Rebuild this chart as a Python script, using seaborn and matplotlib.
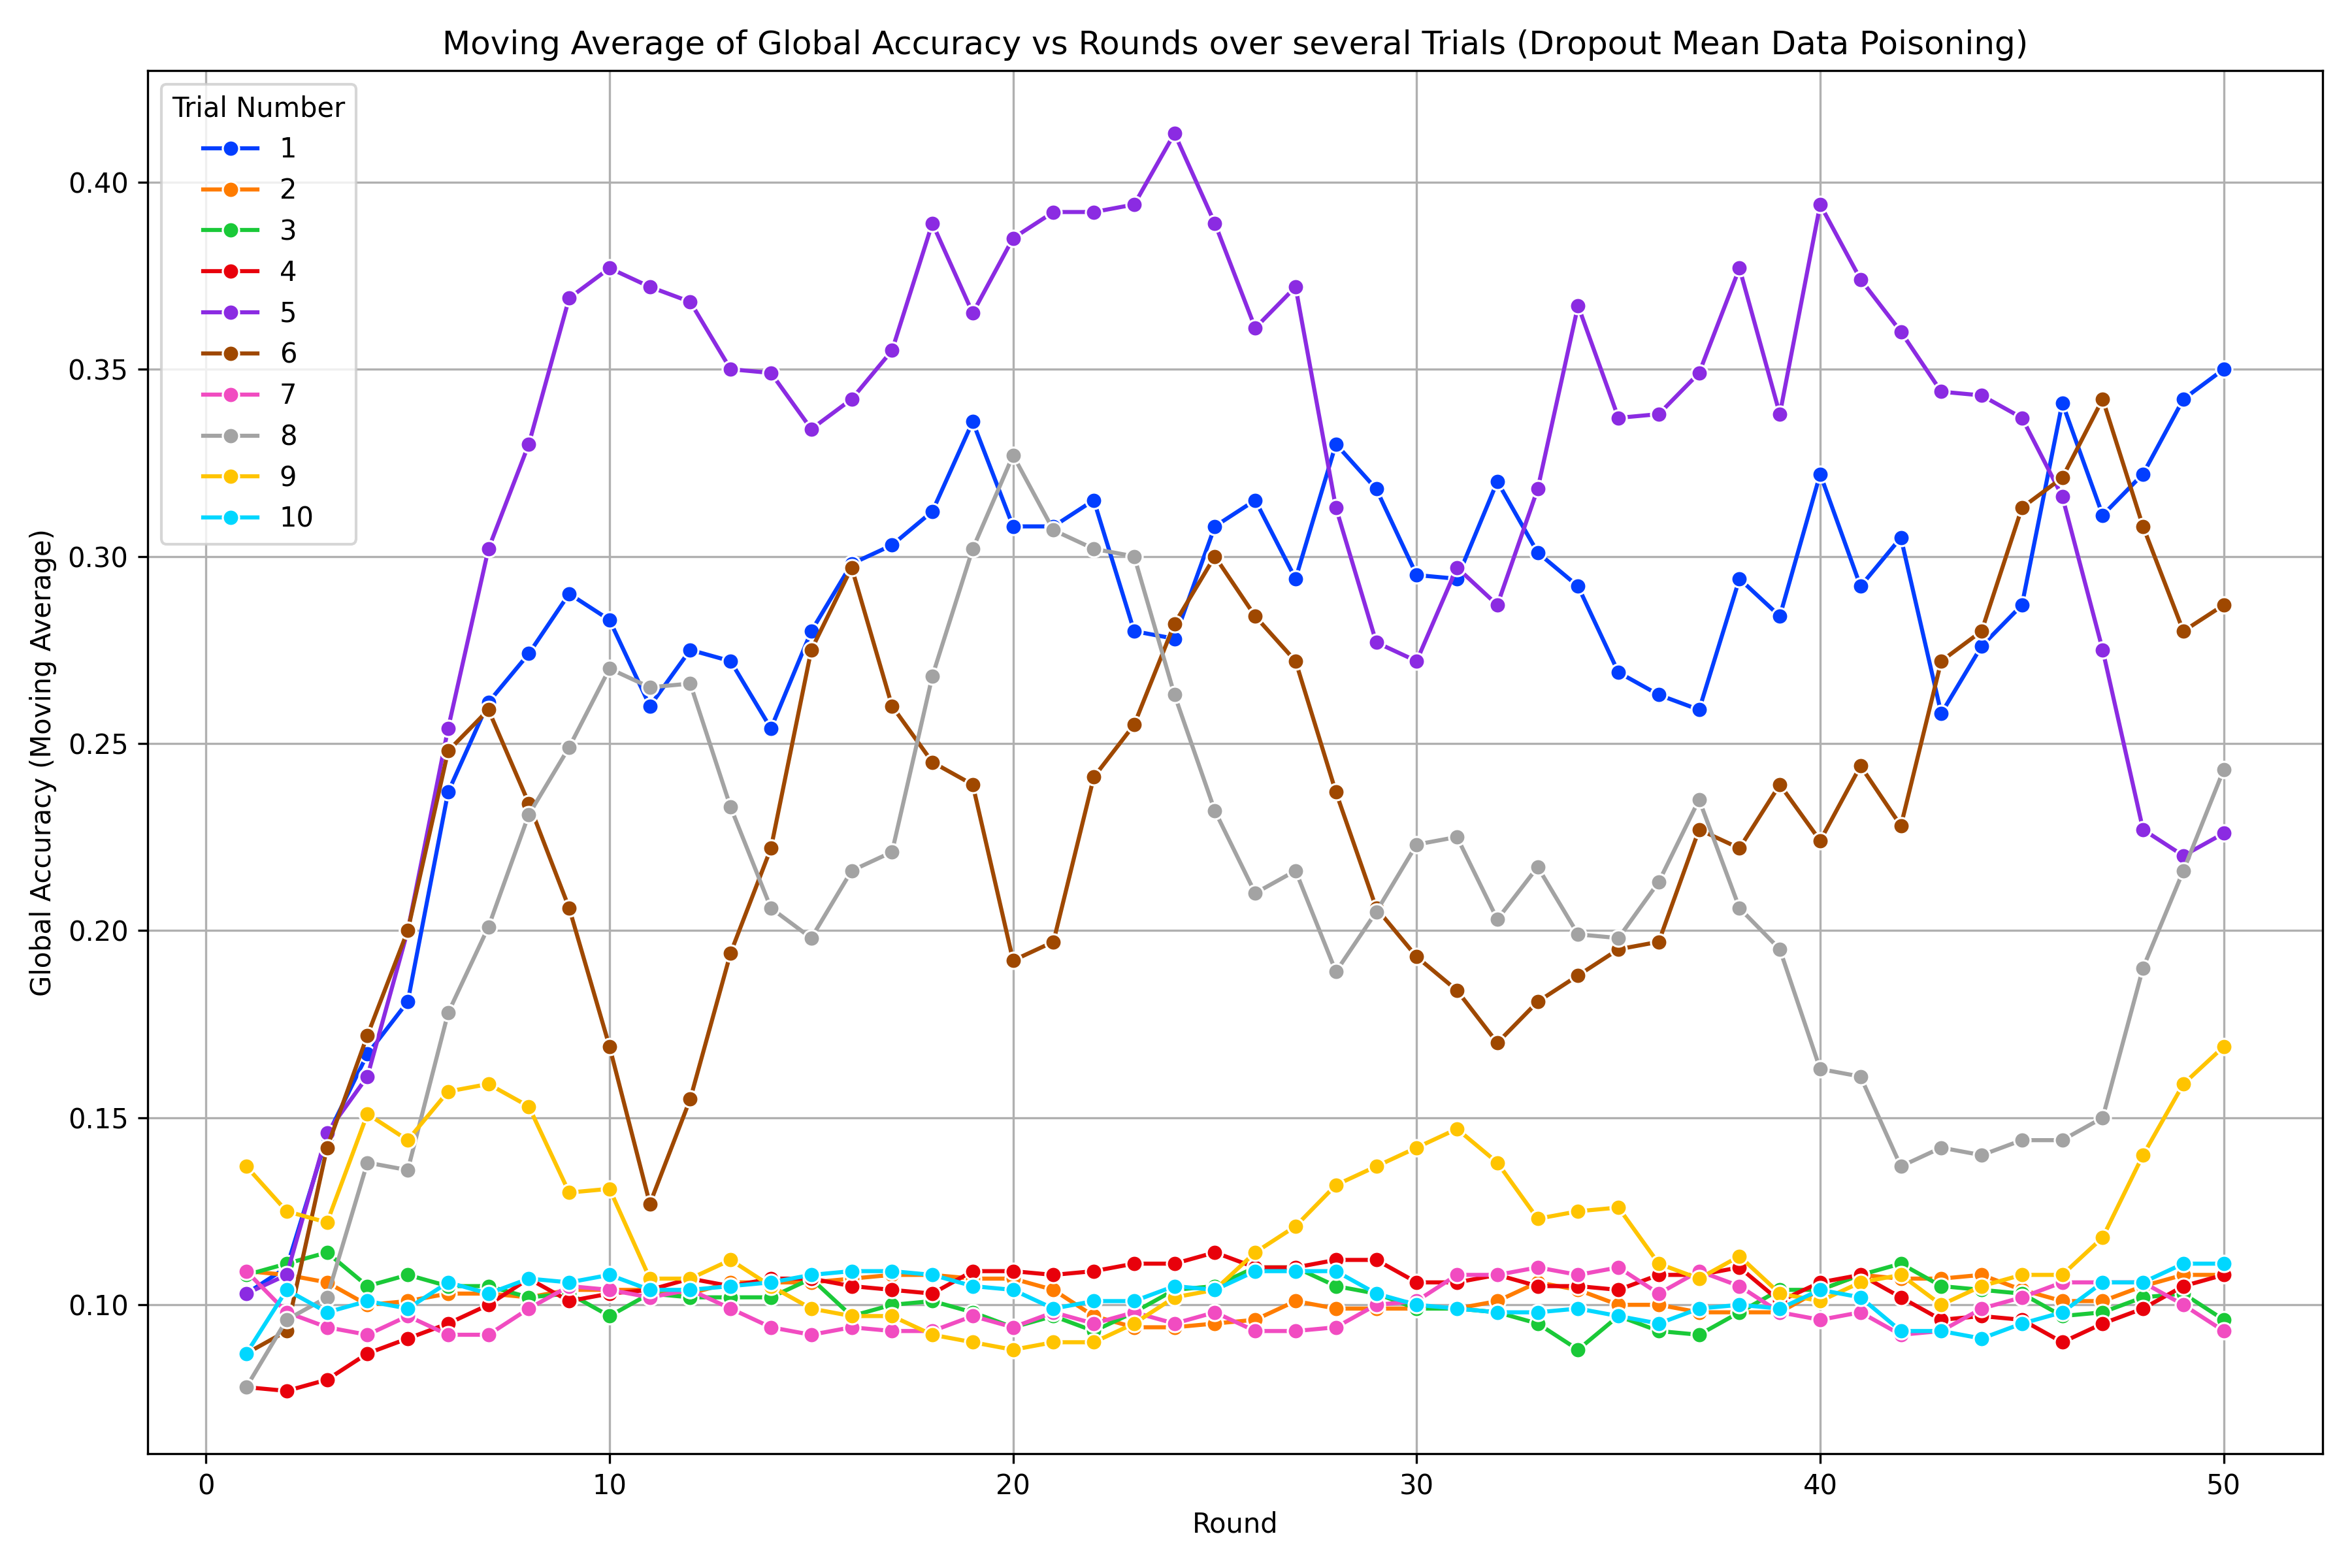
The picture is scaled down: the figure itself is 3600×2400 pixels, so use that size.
import matplotlib
matplotlib.use("Agg")
import matplotlib.pyplot as plt
import seaborn as sns
import pandas as pd

rounds = list(range(1, 51))
t1 = [0.103,0.110,0.145,0.167,0.181,0.237,0.261,0.274,0.290,0.283,0.260,0.275,0.272,0.254,0.280,0.298,0.303,0.312,0.336,0.308,0.308,0.315,0.280,0.278,0.308,0.315,0.294,0.330,0.318,0.295,0.294,0.320,0.301,0.292,0.269,0.263,0.259,0.294,0.284,0.322,0.292,0.305,0.258,0.276,0.287,0.341,0.311,0.322,0.342,0.350]
t2 = [0.109,0.108,0.106,0.100,0.101,0.103,0.103,0.102,0.104,0.104,0.104,0.103,0.106,0.106,0.106,0.107,0.108,0.108,0.107,0.107,0.104,0.097,0.094,0.094,0.095,0.096,0.101,0.099,0.099,0.099,0.099,0.101,0.106,0.104,0.100,0.100,0.098,0.098,0.098,0.104,0.108,0.107,0.107,0.108,0.104,0.101,0.101,0.105,0.108,0.108]
t3 = [0.108,0.111,0.114,0.105,0.108,0.105,0.105,0.102,0.103,0.097,0.103,0.102,0.102,0.102,0.107,0.097,0.100,0.101,0.098,0.094,0.097,0.093,0.098,0.104,0.105,0.110,0.110,0.105,0.103,0.099,0.099,0.098,0.095,0.088,0.097,0.093,0.092,0.098,0.104,0.104,0.108,0.111,0.105,0.104,0.103,0.097,0.098,0.102,0.103,0.096]
t4 = [0.078,0.077,0.080,0.087,0.091,0.095,0.100,0.107,0.101,0.103,0.104,0.107,0.105,0.107,0.107,0.105,0.104,0.103,0.109,0.109,0.108,0.109,0.111,0.111,0.114,0.110,0.110,0.112,0.112,0.106,0.106,0.108,0.105,0.105,0.104,0.108,0.108,0.110,0.101,0.106,0.108,0.102,0.096,0.097,0.096,0.090,0.095,0.099,0.105,0.108]
t5 = [0.103,0.108,0.146,0.161,0.200,0.254,0.302,0.330,0.369,0.377,0.372,0.368,0.350,0.349,0.334,0.342,0.355,0.389,0.365,0.385,0.392,0.392,0.394,0.413,0.389,0.361,0.372,0.313,0.277,0.272,0.297,0.287,0.318,0.367,0.337,0.338,0.349,0.377,0.338,0.394,0.374,0.360,0.344,0.343,0.337,0.316,0.275,0.227,0.220,0.226]
t6 = [0.087,0.093,0.142,0.172,0.200,0.248,0.259,0.234,0.206,0.169,0.127,0.155,0.194,0.222,0.275,0.297,0.260,0.245,0.239,0.192,0.197,0.241,0.255,0.282,0.300,0.284,0.272,0.237,0.206,0.193,0.184,0.170,0.181,0.188,0.195,0.197,0.227,0.222,0.239,0.224,0.244,0.228,0.272,0.280,0.313,0.321,0.342,0.308,0.280,0.287]
t7 = [0.109,0.098,0.094,0.092,0.097,0.092,0.092,0.099,0.105,0.104,0.102,0.104,0.099,0.094,0.092,0.094,0.093,0.093,0.097,0.094,0.098,0.095,0.098,0.095,0.098,0.093,0.093,0.094,0.100,0.101,0.108,0.108,0.110,0.108,0.110,0.103,0.109,0.105,0.098,0.096,0.098,0.092,0.093,0.099,0.102,0.106,0.106,0.106,0.100,0.093]
t8 = [0.078,0.096,0.102,0.138,0.136,0.178,0.201,0.231,0.249,0.270,0.265,0.266,0.233,0.206,0.198,0.216,0.221,0.268,0.302,0.327,0.307,0.302,0.300,0.263,0.232,0.210,0.216,0.189,0.205,0.223,0.225,0.203,0.217,0.199,0.198,0.213,0.235,0.206,0.195,0.163,0.161,0.137,0.142,0.140,0.144,0.144,0.150,0.190,0.216,0.243]
t9 = [0.137,0.125,0.122,0.151,0.144,0.157,0.159,0.153,0.130,0.131,0.107,0.107,0.112,0.105,0.099,0.097,0.097,0.092,0.090,0.088,0.090,0.090,0.095,0.102,0.104,0.114,0.121,0.132,0.137,0.142,0.147,0.138,0.123,0.125,0.126,0.111,0.107,0.113,0.103,0.101,0.106,0.108,0.100,0.105,0.108,0.108,0.118,0.140,0.159,0.169]
t10 = [0.087,0.104,0.098,0.101,0.099,0.106,0.103,0.107,0.106,0.108,0.104,0.104,0.105,0.106,0.108,0.109,0.109,0.108,0.105,0.104,0.099,0.101,0.101,0.105,0.104,0.109,0.109,0.109,0.103,0.100,0.099,0.098,0.098,0.099,0.097,0.095,0.099,0.100,0.099,0.104,0.102,0.093,0.093,0.091,0.095,0.098,0.106,0.106,0.111,0.111]

series = [t1, t2, t3, t4, t5, t6, t7, t8, t9, t10]
rows = []
for i, s in enumerate(series, start=1):
    for r, v in zip(rounds, s):
        rows.append({"Round": r, "Acc": v, "Trial Number": i})
df = pd.DataFrame(rows)

fig, ax = plt.subplots(figsize=(12, 8), dpi=300)
sns.lineplot(data=df, x="Round", y="Acc", hue="Trial Number",
             palette=sns.color_palette("bright", 10), marker="o", ax=ax,
             legend="full")
ax.grid(True)
ax.set_xlabel("Round")
ax.set_ylabel("Global Accuracy (Moving Average)")
ax.set_title("Moving Average of Global Accuracy vs Rounds over several Trials (Dropout Mean Data Poisoning)")
ax.legend(title="Trial Number", loc="upper left")
fig.tight_layout()
fig.savefig("out.png")
